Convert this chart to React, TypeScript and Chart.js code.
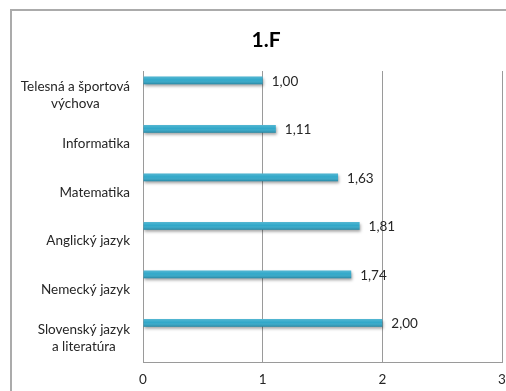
import { useEffect, useRef } from 'react';
import { Chart, registerables } from 'chart.js';
Chart.register(...registerables);

const TITLE = '1.F';
const categories: string[][] = [
  ['Telesná a športová', 'výchova'],
  ['Informatika'],
  ['Matematika'],
  ['Anglický jazyk'],
  ['Nemecký jazyk'],
  ['Slovenský jazyk', 'a literatúra'],
];
const values = [1.0, 1.11, 1.63, 1.81, 1.74, 2.0];
const xTicks = [0, 1, 2, 3];

const FONT = 'Lato, "Open Sans", sans-serif';
const TEXT = '#262626';
const GRID = '#9a9a9a';

const fmt = (v: number) => v.toFixed(2).replace('.', ',');

const titlePlugin = {
  id: 'customTitle',
  afterDraw(chart: any) {
    const ctx = chart.ctx;
    ctx.save();
    ctx.font = `bold 21px ${FONT}`;
    ctx.fillStyle = '#000';
    ctx.textAlign = 'center';
    ctx.textBaseline = 'alphabetic';
    ctx.fillText(TITLE, 266, 47);
    ctx.restore();
  },
};

const yLabelsPlugin = {
  id: 'yLabels',
  afterDraw(chart: any) {
    const ys = chart.scales.y;
    const ctx = chart.ctx;
    ctx.save();
    ctx.font = `13.5px ${FONT}`;
    ctx.fillStyle = TEXT;
    ctx.textAlign = 'center';
    ctx.textBaseline = 'middle';
    const right = chart.chartArea.left - 13;
    categories.forEach((lines, i) => {
      const cy = ys.getPixelForValue(i);
      const w = Math.max(...lines.map((l) => ctx.measureText(l).width));
      const cx = right - w / 2;
      lines.forEach((l, k) => ctx.fillText(l, cx, cy + (k - (lines.length - 1) / 2) * 17));
    });
    ctx.restore();
  },
};

const barStylePlugin = {
  id: 'barStyle',
  beforeDatasetDraw(chart: any, args: any) {
    if (args.index !== 0) return;
    const ctx = chart.ctx;
    ctx.save();
    ctx.shadowColor = 'rgba(0,0,0,0.35)';
    ctx.shadowBlur = 3;
    ctx.shadowOffsetX = 1;
    ctx.shadowOffsetY = 2;
  },
  afterDatasetDraw(chart: any, args: any) {
    if (args.index !== 0) return;
    const ctx = chart.ctx;
    ctx.restore();
    const meta = chart.getDatasetMeta(0);
    ctx.save();
    meta.data.forEach((el: any, i: number) => {
      const { x, y, base, height } = el.getProps(['x', 'y', 'base', 'height'], true);
      const top = y - height / 2;
      const g = ctx.createLinearGradient(0, top, 0, top + height);
      g.addColorStop(0, 'rgba(255,255,255,0.18)');
      g.addColorStop(0.45, 'rgba(255,255,255,0)');
      g.addColorStop(1, 'rgba(0,40,60,0.28)');
      ctx.fillStyle = g;
      ctx.fillRect(Math.min(base, x), top, Math.abs(x - base), height);
      // value label
      ctx.font = `13.5px ${FONT}`;
      ctx.fillStyle = TEXT;
      ctx.textAlign = 'left';
      ctx.textBaseline = 'middle';
      ctx.fillText(fmt(values[i]), x + 9, y + 1);
    });
    ctx.restore();
  },
};

export default function App() {
  const ref = useRef<HTMLCanvasElement>(null);
  useEffect(() => {
    if (!ref.current) return;
    const chart = new Chart(ref.current, {
      type: 'bar',
      data: {
        labels: categories,
        datasets: [
          { data: values, backgroundColor: '#31a8c9', borderWidth: 0 },
          { data: [], backgroundColor: 'transparent' },
          { data: [], backgroundColor: 'transparent' },
          { data: [], backgroundColor: 'transparent' },
          { data: [], backgroundColor: 'transparent' },
        ],
      },
      options: {
        indexAxis: 'y',
        responsive: false,
        animation: false,
        events: [],
        layout: { padding: { top: 71, right: 4, bottom: 0, left: 0 } },
        datasets: { bar: { categoryPercentage: 5 / 6.5, barPercentage: 1.05 } },
        plugins: { legend: { display: false }, title: { display: false }, tooltip: { enabled: false } },
        scales: {
          x: {
            type: 'linear',
            min: 0,
            max: 3,
            afterBuildTicks: (s: any) => {
              s.ticks = xTicks.map((v) => ({ value: v }));
            },
            afterFit: (s: any) => {
              s.height = 29;
              s.paddingLeft = 0;
              s.paddingRight = 0;
            },
            grid: { color: GRID, lineWidth: 1, drawTicks: false },
            border: { display: true, color: GRID, width: 1 },
            ticks: { color: TEXT, font: { family: FONT, size: 13.5 }, padding: 10 },
          },
          y: {
            type: 'category',
            afterFit: (s: any) => {
              s.width = 143;
              s.paddingTop = 0;
              s.paddingBottom = 0;
            },
            grid: { display: false, drawTicks: false },
            border: { display: false },
            ticks: { display: false },
          },
        },
      },
      plugins: [barStylePlugin, yLabelsPlugin, titlePlugin],
    });
    return () => chart.destroy();
  }, []);

  return (
    <div style={{ position: 'fixed', left: 0, top: 0, width: 506, height: 391, overflow: 'hidden', background: '#fff' }}>
      <div
        style={{
          position: 'absolute',
          left: 10,
          top: 9,
          width: 600,
          height: 500,
          border: '2px solid #ababab',
          boxSizing: 'border-box',
        }}
      />
      <canvas ref={ref} width={506} height={391} style={{ position: 'absolute', left: 0, top: 0, width: 506, height: 391 }} />
    </div>
  );
}
